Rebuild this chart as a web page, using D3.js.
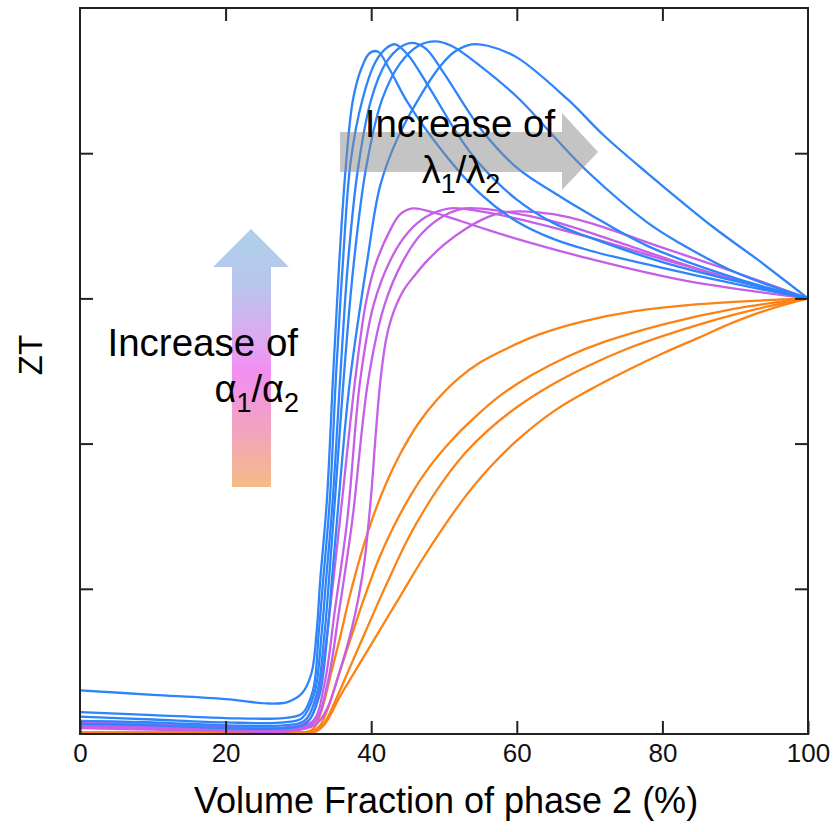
<!DOCTYPE html>
<html>
<head>
<meta charset="utf-8">
<script src="https://cdn.jsdelivr.net/npm/d3@7"></script>
<style>
  body { margin: 0; background: #fff; }
  svg text { font-family: "Liberation Sans", Arial, sans-serif; }
</style>
</head>
<body>
<svg id="chart" width="838" height="832"></svg>
<script>
// ZT vs volume fraction of phase 2, three families of curves

const xTicks = [0, 20, 40, 60, 80, 100];
const yTicks = [1, 2, 3, 4];

// blue family (high alpha1/alpha2), peak moves right as lambda1/lambda2 grows
const blue1 = [[0,0.30],[10,0.27],[20,0.24],[26,0.21],[28.5,0.22],[30.5,0.28],[31.8,0.42],[32.5,0.70],[33,1.06],[33.9,1.6],[34.8,2.5],[35.6,3.24],[36.5,3.9],[37.5,4.37],[38.7,4.59],[39.8,4.69],[40.9,4.70],[42.5,4.58],[45,4.35],[50,4.0],[55,3.72],[60,3.53],[65,3.41],[70,3.33],[80,3.21],[90,3.10],[100,3.0]];
const blue2 = [[0,0.15],[10,0.13],[20,0.11],[28,0.11],[30.5,0.14],[32,0.3],[32.8,0.7],[33.4,1.06],[34.3,1.6],[35.2,2.5],[36.1,3.24],[37.2,3.95],[38.8,4.37],[40.5,4.62],[42,4.72],[43.3,4.75],[45,4.68],[48,4.45],[52,4.12],[55,3.92],[60,3.68],[65,3.52],[70,3.42],[80,3.25],[90,3.12],[100,3.0]];
const blue3 = [[0,0.12],[10,0.10],[20,0.08],[28,0.08],[30.5,0.11],[32.2,0.28],[33.2,0.7],[33.8,1.06],[34.7,1.6],[35.8,2.5],[36.8,3.24],[38.2,3.9],[40,4.37],[42,4.62],[44,4.73],[45.7,4.76],[47.5,4.72],[50,4.55],[55,4.17],[60,3.90],[66,3.70],[70,3.58],[78,3.36],[90,3.14],[100,3.0]];
const blue4 = [[0,0.09],[10,0.08],[20,0.06],[28,0.06],[30.8,0.09],[32.5,0.27],[33.6,0.7],[34.2,1.06],[35.0,1.6],[36.3,2.5],[37.6,3.24],[39.3,3.9],[41.5,4.37],[44,4.62],[46.5,4.74],[48.8,4.77],[51,4.74],[55,4.6],[60.4,4.37],[65,4.12],[70,3.86],[78,3.52],[82.4,3.38],[90,3.18],[100,3.0]];
const blue5 = [[0,0.07],[10,0.06],[20,0.04],[28,0.04],[31,0.07],[32.8,0.25],[34.0,0.7],[34.6,1.06],[35.3,1.47],[37.0,2.4],[39.4,3.24],[41.2,3.77],[43.5,4.09],[46.7,4.39],[49.5,4.60],[51.5,4.70],[53.8,4.75],[56,4.74],[60,4.66],[67,4.37],[72,4.12],[78,3.86],[87,3.49],[93,3.27],[100,3.0]];

// purple family
const purple1 = [[0,0.08],[10,0.07],[20,0.05],[29,0.05],[31.5,0.1],[33,0.35],[34.2,0.8],[35.7,1.47],[37.8,2.44],[39.2,2.95],[40.5,3.22],[42.6,3.47],[44,3.58],[45.7,3.62],[48,3.6],[50,3.57],[54.9,3.49],[60,3.41],[68.7,3.29],[82.4,3.13],[100,3.0]];
const purple2 = [[0,0.06],[10,0.05],[20,0.04],[29,0.04],[32,0.09],[33.6,0.35],[35,0.85],[36.7,1.47],[38.5,2.44],[40.3,2.95],[42.6,3.26],[45,3.45],[47.5,3.56],[50.8,3.62],[55,3.60],[60,3.55],[70,3.42],[80,3.27],[90,3.13],[100,3.0]];
const purple3 = [[0,0.05],[10,0.04],[20,0.03],[29,0.03],[32.2,0.08],[34,0.35],[35.6,0.85],[37.4,1.47],[39.6,2.44],[41.8,2.95],[44.4,3.26],[47,3.45],[50,3.57],[52.9,3.62],[58,3.60],[65,3.53],[73.2,3.40],[87,3.17],[100,3.0]];
const purple4 = [[0,0.04],[10,0.03],[20,0.02],[29,0.02],[32.5,0.07],[34,0.18],[35.6,0.42],[37.3,0.72],[38.3,0.95],[39.1,1.2],[40,1.65],[40.6,2.05],[41.3,2.45],[42.1,2.73],[43.1,2.91],[44.5,3.06],[46,3.16],[47.7,3.26],[50,3.37],[53,3.48],[56,3.56],[58,3.59],[60.4,3.60],[65,3.58],[70,3.52],[80,3.35],[90,3.18],[100,3.0]];

// orange family (low alpha1/alpha2)
const orange1 = [[0,0.01],[20,0.01],[30,0.01],[31.6,0.02],[32.4,0.06],[33.4,0.2],[34.5,0.42],[35.7,0.66],[37,0.94],[38.5,1.22],[40,1.46],[42,1.72],[44,1.93],[46.5,2.14],[49,2.3],[52,2.45],[55,2.56],[58,2.64],[63,2.75],[69,2.84],[76,2.91],[85,2.96],[100,3.0]];
const orange2 = [[0,0.01],[20,0.01],[30,0.01],[32,0.02],[33,0.06],[34,0.17],[35.5,0.40],[37,0.63],[39,0.93],[41,1.2],[43,1.42],[45.5,1.65],[48,1.84],[51,2.02],[54,2.17],[57.7,2.33],[62,2.47],[67,2.6],[72,2.7],[80,2.82],[90,2.93],[100,3.0]];
const orange3 = [[0,0.01],[20,0.01],[30,0.01],[32.3,0.02],[33.5,0.07],[35,0.22],[37,0.45],[39,0.68],[41,0.91],[43,1.13],[45,1.34],[47.5,1.56],[50,1.75],[53,1.94],[56,2.09],[60,2.25],[65,2.41],[70,2.54],[75,2.65],[80,2.74],[85,2.82],[90,2.89],[95,2.95],[100,3.0]];
const orange4 = [[0,0.01],[20,0.01],[30,0.01],[32.5,0.02],[33.5,0.06],[34.5,0.14],[35.5,0.24],[38,0.45],[41,0.70],[44,0.95],[47,1.20],[50,1.43],[53,1.64],[56,1.82],[60,2.02],[65,2.22],[70,2.37],[75,2.5],[80,2.62],[85,2.73],[90,2.84],[95,2.93],[100,3.0]];

const families = [
    { color: "#fb8316", curves: [orange1, orange2, orange3, orange4] },
    { color: "#c65fe8", curves: [purple1, purple2, purple3, purple4] },
    { color: "#2d84fb", curves: [blue1, blue2, blue3, blue4, blue5] }
];

const margin = { top: 8, right: 30, bottom: 98, left: 80 };
const width = 838 - margin.left - margin.right;   // 728
const height = 832 - margin.top - margin.bottom;  // 726

const svg = d3.select("#chart");
const g = svg.append("g").attr("transform", `translate(${margin.left},${margin.top})`);

const x = d3.scaleLinear().domain([0, 100]).range([0, width]);
const y = d3.scaleLinear().domain([0, 5]).range([height, 0]);

const line = d3.line()
    .x(d => x(d[0]))
    .y(d => y(d[1]))
    .curve(d3.curveCatmullRom.alpha(0.5));

// curves
families.forEach(f => {
    g.selectAll(null)
        .data(f.curves)
        .enter()
        .append("path")
        .attr("d", line)
        .attr("fill", "none")
        .attr("stroke", f.color)
        .attr("stroke-width", 2.3)
        .attr("stroke-linejoin", "round");
});

// axes, ticks inward on all four sides
const tickLen = 13;
function styleAxis(sel) {
    sel.select(".domain").remove();
    sel.selectAll(".tick line").attr("stroke", "#222").attr("stroke-width", 2);
}

g.append("g")
    .attr("transform", `translate(0,${height})`)
    .call(d3.axisBottom(x).tickValues(xTicks).tickSizeInner(-tickLen).tickSizeOuter(0).tickPadding(10))
    .call(styleAxis)
    .selectAll("text")
    .attr("font-size", 26)
    .attr("fill", "#111");

g.append("g")
    .call(d3.axisTop(x).tickValues(xTicks.slice(1, -1)).tickSizeInner(-tickLen).tickSizeOuter(0).tickFormat(""))
    .call(styleAxis);

g.append("g")
    .call(d3.axisLeft(y).tickValues(yTicks).tickSizeInner(-tickLen).tickSizeOuter(0).tickFormat(""))
    .call(styleAxis);

g.append("g")
    .attr("transform", `translate(${width},0)`)
    .call(d3.axisRight(y).tickValues(yTicks).tickSizeInner(-tickLen).tickSizeOuter(0).tickFormat(""))
    .call(styleAxis);

g.append("rect")
    .attr("width", width)
    .attr("height", height)
    .attr("fill", "none")
    .attr("stroke", "#222")
    .attr("stroke-width", 2);

// axis titles
svg.append("text")
    .attr("x", 446)
    .attr("y", 813)
    .attr("text-anchor", "middle")
    .attr("font-size", 36)
    .text("Volume Fraction of phase 2 (%)");

svg.append("text")
    .attr("transform", "translate(42,355) rotate(-90)")
    .attr("text-anchor", "middle")
    .attr("font-size", 33)
    .text("ZT");

// grey arrow: increase of lambda1/lambda2
g.append("path")
    .attr("d", `M260,124 L482,124 L482,105 L518,144 L482,182 L482,164 L260,164 Z`)
    .attr("fill", "#8a8a8a")
    .attr("opacity", 0.5);

g.append("text")
    .attr("x", 380)
    .attr("y", 129)
    .attr("text-anchor", "middle")
    .attr("font-size", 38.5)
    .text("Increase of");

const lam = g.append("text")
    .attr("x", 381)
    .attr("y", 175)
    .attr("text-anchor", "middle")
    .attr("font-size", 38);
lam.append("tspan").text("λ");
lam.append("tspan").attr("font-size", 27).attr("dy", 10).text("1");
lam.append("tspan").attr("dy", -10).text("/λ");
lam.append("tspan").attr("font-size", 27).attr("dy", 10).text("2");

// gradient arrow: increase of alpha1/alpha2
const grad = svg.append("defs").append("linearGradient")
    .attr("id", "alphaGrad")
    .attr("x1", 0).attr("y1", 0).attr("x2", 0).attr("y2", 1);
[["0%", "#aed0ea"], ["22%", "#b8c6ec"], ["45%", "#e2a4f2"], ["55%", "#f28ef2"], ["78%", "#f2a3c0"], ["100%", "#f5bb84"]]
    .forEach(s => grad.append("stop").attr("offset", s[0]).attr("stop-color", s[1]));

svg.append("path")
    .attr("d", "M232,487 L232,267 L213,267 L251,229 L289,267 L271,267 L271,487 Z")
    .attr("fill", "url(#alphaGrad)");

svg.append("text")
    .attr("x", 298)
    .attr("y", 356)
    .attr("text-anchor", "end")
    .attr("font-size", 38.5)
    .text("Increase of");

const alp = svg.append("text")
    .attr("x", 299)
    .attr("y", 402)
    .attr("text-anchor", "end")
    .attr("font-size", 38);
alp.append("tspan").text("α");
alp.append("tspan").attr("font-size", 27).attr("dy", 10).text("1");
alp.append("tspan").attr("dy", -10).text("/α");
alp.append("tspan").attr("font-size", 27).attr("dy", 10).text("2");
</script>
</body>
</html>
